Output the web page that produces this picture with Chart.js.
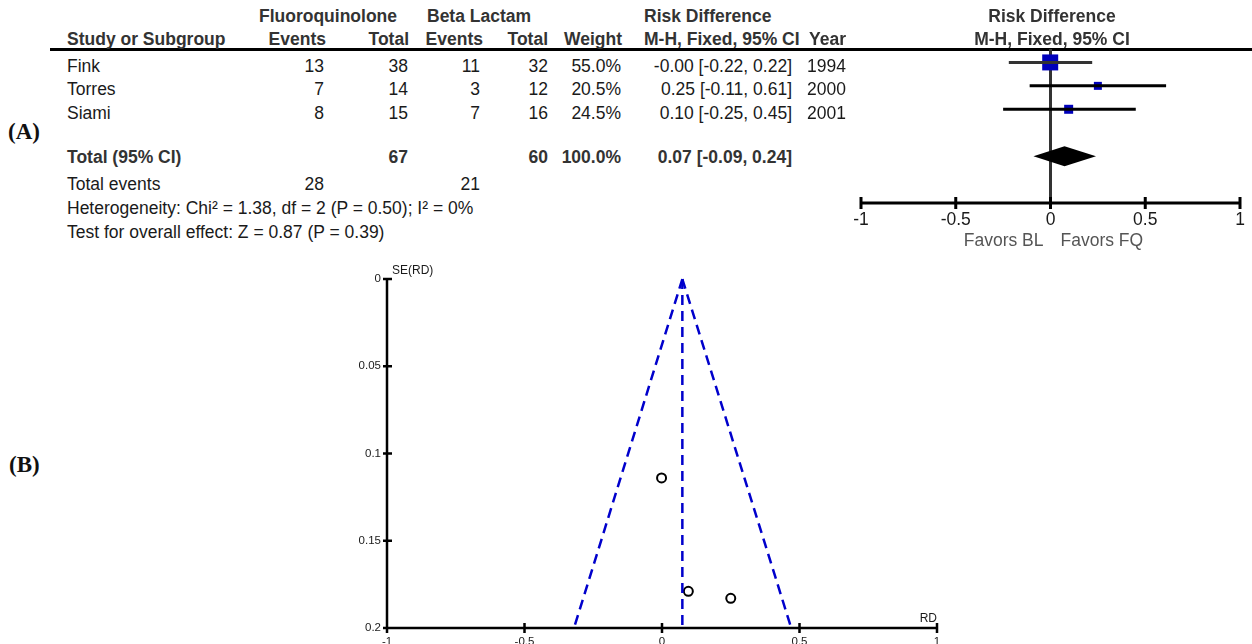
<!DOCTYPE html>
<html>
<head>
<meta charset="utf-8">
<script src="https://cdn.jsdelivr.net/npm/chart.js@4.4.1/dist/chart.umd.min.js"></script>
<style>
    body { margin: 0; background: #fff; }
    #page { position: relative; width: 1252px; height: 644px; overflow: hidden;
            font-family: "Liberation Sans", Arial, sans-serif; font-size: 17.5px; color: #1a1a1a; }
    .t { position: absolute; white-space: nowrap; line-height: 1.15; }
    .b { font-weight: bold; color: #333; }
    .panel { position: absolute; font-family: "Liberation Serif", serif; font-weight: bold; font-size: 23px; color: #111; }
    #rule { position: absolute; left: 50px; top: 48px; width: 1202px; height: 3px; background: #000; }
    #forest { position: absolute; left: 840px; top: 0; }
    #funnel { position: absolute; left: 330px; top: 260px; }
</style>
</head>
<body>
<div id="page">
    <div id="rule"></div>
    <div class="panel" style="left:8px; top:119px;">(A)</div>
    <div class="panel" style="left:9px; top:452px;">(B)</div>
    <canvas id="forest" width="412" height="260"></canvas>
    <canvas id="funnel" width="630" height="384"></canvas>
</div>
<script>
// study data (FQ = fluoroquinolone, BL = beta lactam)
var studies = ['Fink', 'Torres', 'Siami'];
var fqEvents = [13, 7, 8];
var fqTotal = [38, 14, 15];
var blEvents = [11, 3, 7];
var blTotal = [32, 12, 16];
var weights = [55.0, 20.5, 24.5];
var riskDiff = [-0.0016, 0.25, 0.0958];
var ciLow = [-0.22, -0.11, -0.25];
var ciHigh = [0.22, 0.61, 0.45];
var years = [1994, 2000, 2001];
var seRD = [0.114, 0.183, 0.179];

// pooled result
var pooled = 0.074;
var pooledLow = -0.09;
var pooledHigh = 0.24;
var fqEventsTotal = 28, fqN = 67, blEventsTotal = 21, blN = 60;
var heterogeneity = 'Heterogeneity: Chi² = 1.38, df = 2 (P = 0.50); I² = 0%';
var overallTest = 'Test for overall effect: Z = 0.87 (P = 0.39)';

// funnel limits read at SE = 0.2
var funnelSeMax = 0.2;
var funnelLeft = -0.32;
var funnelRight = 0.47;

// axis ticks
var rdTicks = [-1, -0.5, 0, 0.5, 1];
var seTicks = [0, 0.05, 0.1, 0.15, 0.2];

// sizes of the weight boxes (px)
var boxSides = [16, 8, 9];
var totalRow = 4;
var ruleY = 49;

var page = document.getElementById('page');
function put(text, x, y, align, cls) {
    var d = document.createElement('div');
    d.className = 't ' + (cls || '');
    d.textContent = text;
    d.style.left = x + 'px';
    d.style.top = y + 'px';
    var tx = align === 'right' ? '-100%' : (align === 'center' ? '-50%' : '0');
    d.style.transform = 'translate(' + tx + ', -50%)';
    page.appendChild(d);
}
function f2(v) { return v.toFixed(2); }

// header
put('Fluoroquinolone', 259, 16, 'left', 'b');
put('Beta Lactam', 427, 16, 'left', 'b');
put('Risk Difference', 644, 16, 'left', 'b');
put('Risk Difference', 1052, 16, 'center', 'b');
put('Study or Subgroup', 67, 39, 'left', 'b');
put('Events', 326, 39, 'right', 'b');
put('Total', 409, 39, 'right', 'b');
put('Events', 483, 39, 'right', 'b');
put('Total', 548, 39, 'right', 'b');
put('Weight', 622, 39, 'right', 'b');
put('M-H, Fixed, 95% CI', 644, 39, 'left', 'b');
put('Year', 846, 39, 'right', 'b');
put('M-H, Fixed, 95% CI', 1052, 39, 'center', 'b');

// study rows
studies.forEach(function (s, i) {
    var y = 66 + i * 23.3;
    put(s, 67, y, 'left');
    put(String(fqEvents[i]), 324, y, 'right');
    put(String(fqTotal[i]), 408, y, 'right');
    put(String(blEvents[i]), 480, y, 'right');
    put(String(blTotal[i]), 548, y, 'right');
    put(weights[i].toFixed(1) + '%', 621, y, 'right');
    put(f2(riskDiff[i]) + ' [' + f2(ciLow[i]) + ', ' + f2(ciHigh[i]) + ']', 792, y, 'right');
    put(String(years[i]), 846, y, 'right');
});

// totals
put('Total (95% CI)', 67, 157, 'left', 'b');
put(String(fqN), 408, 157, 'right', 'b');
put(String(blN), 548, 157, 'right', 'b');
put('100.0%', 621, 157, 'right', 'b');
put(f2(pooled) + ' [' + f2(pooledLow) + ', ' + f2(pooledHigh) + ']', 792, 157, 'right', 'b');
put('Total events', 67, 184, 'left');
put(String(fqEventsTotal), 324, 184, 'right');
put(String(blEventsTotal), 480, 184, 'right');
put(heterogeneity, 67, 208, 'left');
put(overallTest, 67, 232, 'left');

// Forest plot
var forestDecor = {
    id: 'forestDecor',
    beforeDatasetsDraw: function (chart) {
        var ctx = chart.ctx, x = chart.scales.x;
        var x0 = x.getPixelForValue(0);
        ctx.save();
        ctx.strokeStyle = '#333';
        ctx.lineWidth = 3;
        ctx.beginPath();
        ctx.moveTo(x0, ruleY);
        ctx.lineTo(x0, chart.chartArea.bottom);
        ctx.stroke();
        ctx.restore();
    },
    afterDatasetsDraw: function (chart) {
        var ctx = chart.ctx, x = chart.scales.x, y = chart.scales.y;
        var area = chart.chartArea;
        ctx.save();
        // pooled diamond
        var cy = y.getPixelForValue(totalRow);
        ctx.fillStyle = '#000';
        ctx.beginPath();
        ctx.moveTo(x.getPixelForValue(pooledLow), cy);
        ctx.lineTo(x.getPixelForValue(pooled), cy - 10);
        ctx.lineTo(x.getPixelForValue(pooledHigh), cy);
        ctx.lineTo(x.getPixelForValue(pooled), cy + 10);
        ctx.closePath();
        ctx.fill();
        // x axis
        ctx.strokeStyle = '#000';
        ctx.lineWidth = 3;
        ctx.beginPath();
        ctx.moveTo(x.getPixelForValue(rdTicks[0]), area.bottom);
        ctx.lineTo(x.getPixelForValue(rdTicks[rdTicks.length - 1]), area.bottom);
        rdTicks.forEach(function (t) {
            var px = x.getPixelForValue(t);
            ctx.moveTo(px, area.bottom - 6);
            ctx.lineTo(px, area.bottom + 6);
        });
        ctx.stroke();
        ctx.font = '17.5px "Liberation Sans", Arial, sans-serif';
        ctx.fillStyle = '#1a1a1a';
        ctx.textAlign = 'center';
        ctx.textBaseline = 'middle';
        rdTicks.forEach(function (t) {
            ctx.fillText(String(t), x.getPixelForValue(t), area.bottom + 17);
        });
        ctx.fillStyle = '#555';
        ctx.textAlign = 'right';
        ctx.fillText('Favors BL', x.getPixelForValue(0) - 7, area.bottom + 38);
        ctx.textAlign = 'left';
        ctx.fillText('Favors FQ', x.getPixelForValue(0) + 10, area.bottom + 38);
        ctx.restore();
    }
};

var ciSets = studies.map(function (s, i) {
    return {
        label: s + ' CI',
        data: [{ x: ciLow[i], y: i }, { x: ciHigh[i], y: i }],
        showLine: true,
        borderColor: i === 0 ? '#333' : '#000',
        borderWidth: 3,
        pointRadius: 0,
        clip: false
    };
});

new Chart(document.getElementById('forest').getContext('2d'), {
    type: 'scatter',
    data: {
        datasets: ciSets.concat([{
            label: 'Risk difference',
            data: studies.map(function (s, i) { return { x: riskDiff[i], y: i }; }),
            pointStyle: 'rect',
            pointRadius: boxSides.map(function (side) { return side / Math.SQRT2; }),
            backgroundColor: '#0000bb',
            borderWidth: 0,
            pointBorderWidth: 0,
            clip: false
        }])
    },
    options: {
        responsive: false,
        animation: false,
        events: [],
        layout: { padding: { left: 21, right: 12, top: 39, bottom: 57 } },
        plugins: { legend: { display: false }, tooltip: { enabled: false } },
        scales: {
            x: { type: 'linear', min: -1, max: 1, display: false },
            y: { type: 'linear', min: -1, max: 6, reverse: true, display: false }
        }
    },
    plugins: [forestDecor]
});

// Funnel plot
var funnelAxes = {
    id: 'funnelAxes',
    beforeDatasetsDraw: function (chart) {
        var ctx = chart.ctx, x = chart.scales.x, y = chart.scales.y;
        var area = chart.chartArea;
        ctx.save();
        ctx.strokeStyle = '#000';
        ctx.lineWidth = 2.5;
        ctx.beginPath();
        ctx.moveTo(area.left, area.top);
        ctx.lineTo(area.left, area.bottom);
        ctx.lineTo(area.right, area.bottom);
        seTicks.forEach(function (t) {
            var py = y.getPixelForValue(t);
            ctx.moveTo(area.left - 4, py);
            ctx.lineTo(area.left + 5, py);
        });
        rdTicks.forEach(function (t) {
            var px = x.getPixelForValue(t);
            ctx.moveTo(px, area.bottom - 5);
            ctx.lineTo(px, area.bottom + 5);
        });
        ctx.stroke();
        ctx.font = '11.5px "Liberation Sans", Arial, sans-serif';
        ctx.fillStyle = '#1a1a1a';
        ctx.textAlign = 'right';
        ctx.textBaseline = 'middle';
        seTicks.forEach(function (t) {
            ctx.fillText(String(t), area.left - 6, y.getPixelForValue(t));
        });
        ctx.textAlign = 'center';
        ctx.textBaseline = 'top';
        rdTicks.forEach(function (t) {
            ctx.fillText(String(t), x.getPixelForValue(t), area.bottom + 8);
        });
        ctx.font = '12px "Liberation Sans", Arial, sans-serif';
        ctx.textAlign = 'left';
        ctx.textBaseline = 'middle';
        ctx.fillText('SE(RD)', area.left + 5, area.top - 8);
        ctx.textAlign = 'right';
        ctx.textBaseline = 'alphabetic';
        ctx.fillText('RD', area.right, area.bottom - 6);
        ctx.restore();
    }
};

function dashed(label, pts) {
    return {
        label: label,
        data: pts,
        showLine: true,
        borderColor: '#0000cc',
        borderWidth: 2.5,
        borderDash: [10, 6],
        pointRadius: 0,
        clip: false
    };
}

new Chart(document.getElementById('funnel').getContext('2d'), {
    type: 'scatter',
    data: {
        datasets: [
            dashed('Lower limit', [{ x: pooled, y: 0 }, { x: funnelLeft, y: funnelSeMax }]),
            dashed('Upper limit', [{ x: pooled, y: 0 }, { x: funnelRight, y: funnelSeMax }]),
            dashed('Pooled', [{ x: pooled, y: 0 }, { x: pooled, y: funnelSeMax }]),
            {
                label: 'Studies',
                data: studies.map(function (s, i) { return { x: riskDiff[i], y: seRD[i] }; }),
                pointStyle: 'circle',
                pointRadius: 4.5,
                pointBorderWidth: 2,
                borderColor: '#000',
                backgroundColor: '#fff',
                clip: false
            }
        ]
    },
    options: {
        responsive: false,
        animation: false,
        events: [],
        layout: { padding: { left: 57, right: 23, top: 19, bottom: 16 } },
        plugins: { legend: { display: false }, tooltip: { enabled: false } },
        scales: {
            x: { type: 'linear', min: -1, max: 1, display: false },
            y: { type: 'linear', min: 0, max: 0.2, reverse: true, display: false }
        }
    },
    plugins: [funnelAxes]
});
</script>
</body>
</html>
